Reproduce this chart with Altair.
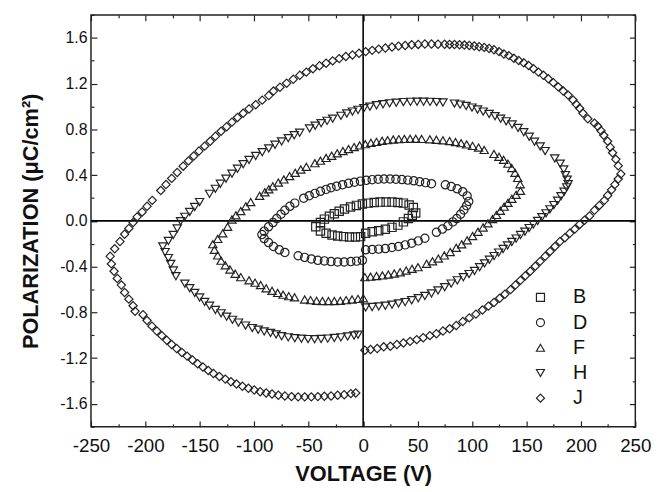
import altair as alt
import pandas as pd

SERIES = ["B", "D", "F", "H", "J"]
SHAPES = ["square", "circle", "triangle-up", "triangle-down", "diamond"]

X_TICKS = [-250, -225, -200, -175, -150, -125, -100, -75, -50, -25, 0,
           25, 50, 75, 100, 125, 150, 175, 200, 225, 250]
Y_TICKS = [-1.8, -1.6, -1.4, -1.2, -1.0, -0.8, -0.6, -0.4, -0.2, 0.0,
           0.2, 0.4, 0.6, 0.8, 1.0, 1.2, 1.4, 1.6, 1.8]

B = [(2.3, -0.109), (8.3, -0.095), (14.3, -0.086), (20.4, -0.074), (26.5, -0.057),
     (31.9, -0.037), (37.0, -0.009), (41.6, 0.020), (45.2, 0.049), (48.3, 0.069),
     (46.1, 0.116), (42.2, 0.138), (37.0, 0.155), (31.9, 0.161), (26.5, 0.164),
     (21.1, 0.164), (15.6, 0.164), (10.2, 0.161), (4.7, 0.155), (-0.7, 0.147),
     (-6.2, 0.135), (-11.6, 0.121), (-17.1, 0.104), (-22.0, 0.084), (-26.5, 0.062),
     (-31.0, 0.041), (-35.6, 0.015), (-39.2, -0.014), (-43.5, -0.052),
     (-39.2, -0.089), (-34.0, -0.109), (-28.6, -0.123), (-23.4, -0.132),
     (-18.0, -0.138), (-12.5, -0.141), (-7.1, -0.141), (-2.3, -0.138)]

D = [(2.3, -0.253), (8.3, -0.250), (14.3, -0.247), (20.4, -0.242), (26.5, -0.233),
     (32.5, -0.224), (38.6, -0.210), (44.6, -0.195), (50.6, -0.175), (56.7, -0.152),
     (67.3, -0.100), (72.8, -0.072), (77.9, -0.043), (82.4, -0.009), (86.0, 0.020),
     (89.5, 0.058), (92.5, 0.095), (95.0, 0.133), (97.0, 0.170),
     (95.5, 0.218), (91.5, 0.255), (86.4, 0.280), (80.9, 0.300), (75.5, 0.315),
     (62.8, 0.325), (57.3, 0.334), (51.9, 0.342), (46.5, 0.350), (41.0, 0.356),
     (35.6, 0.361), (30.1, 0.364), (24.7, 0.366), (19.2, 0.366), (13.8, 0.364),
     (8.3, 0.360), (2.9, 0.354), (-2.5, 0.347), (-8.0, 0.338), (-13.4, 0.328),
     (-18.9, 0.316), (-24.3, 0.303), (-29.5, 0.290), (-34.0, 0.275), (-39.2, 0.258),
     (-44.3, 0.240), (-49.5, 0.220), (-54.6, 0.198), (-62.8, 0.155), (-67.3, 0.127),
     (-71.9, 0.092), (-75.5, 0.058), (-79.4, 0.020), (-82.8, -0.015), (-86.9, -0.052),
     (-90.9, -0.090), (-93.0, -0.120), (-90.9, -0.155), (-86.9, -0.190),
     (-82.4, -0.224), (-77.0, -0.253), (-71.9, -0.276), (-59.7, -0.305),
     (-53.7, -0.319), (-47.6, -0.333), (-41.6, -0.345), (-35.6, -0.350),
     (-29.5, -0.356), (-23.4, -0.359), (-17.4, -0.359), (-11.3, -0.356),
     (-6.0, -0.352), (-0.7, -0.345)]

F = [(1.6, -0.492), (6.8, -0.488), (12.3, -0.483), (17.7, -0.477), (23.1, -0.469),
     (28.6, -0.460), (34.0, -0.449), (39.5, -0.434), (44.9, -0.419), (50.4, -0.405),
     (58.3, -0.376), (63.7, -0.354), (69.1, -0.330), (74.6, -0.302), (80.0, -0.273),
     (85.5, -0.236), (90.5, -0.205), (95.5, -0.170), (100.5, -0.133), (105.5, -0.095),
     (110.2, -0.058), (114.6, -0.021), (118.8, 0.016), (122.5, 0.052), (126.0, 0.088),
     (129.5, 0.124), (133.0, 0.158), (136.6, 0.193), (140.5, 0.228), (144.5, 0.262),
     (144.2, 0.320), (142.0, 0.375), (139.5, 0.420), (136.5, 0.462), (133.0, 0.500),
     (129.0, 0.533), (124.8, 0.560), (120.2, 0.585), (111.2, 0.620), (106.0, 0.640),
     (100.5, 0.655), (95.1, 0.668), (90.0, 0.679), (84.8, 0.689), (79.4, 0.697),
     (73.3, 0.704), (67.3, 0.709), (61.3, 0.713), (53.7, 0.716), (48.3, 0.717),
     (43.1, 0.717), (37.9, 0.716), (32.8, 0.714), (27.7, 0.711), (22.5, 0.705),
     (17.4, 0.699), (12.3, 0.690), (7.1, 0.682), (2.0, 0.670), (-3.2, 0.659),
     (-8.3, 0.645), (-13.4, 0.627), (-18.6, 0.610), (-23.8, 0.590), (-28.9, 0.569),
     (-34.0, 0.550), (-39.2, 0.526), (-44.3, 0.504), (-52.2, 0.472), (-57.3, 0.449),
     (-62.4, 0.420), (-67.6, 0.392), (-72.8, 0.362), (-77.9, 0.334), (-83.0, 0.302),
     (-86.7, 0.276), (-90.3, 0.250), (-95.1, 0.219), (-103.3, 0.164), (-107.8, 0.127),
     (-112.4, 0.086), (-116.9, 0.049), (-120.5, 0.012), (-124.5, -0.052),
     (-129.0, -0.109), (-133.6, -0.158), (-138.1, -0.204),
     (-136.6, -0.253), (-133.6, -0.302), (-130.5, -0.348), (-126.6, -0.388),
     (-122.3, -0.425), (-117.5, -0.462), (-112.4, -0.492), (-104.8, -0.520),
     (-99.3, -0.540), (-94.2, -0.561), (-89.1, -0.590), (-83.7, -0.612),
     (-78.5, -0.630), (-73.5, -0.645), (-68.3, -0.658), (-63.0, -0.668),
     (-53.7, -0.687), (-48.3, -0.693), (-42.8, -0.699), (-37.4, -0.701),
     (-31.9, -0.701), (-26.5, -0.701), (-21.0, -0.699), (-15.6, -0.693),
     (-10.2, -0.687), (-4.7, -0.682), (0.2, -0.676)]

H = [(2.3, -0.756), (8.3, -0.753), (14.3, -0.748), (20.4, -0.742), (26.5, -0.733),
     (32.5, -0.722), (38.6, -0.710), (44.6, -0.694), (50.6, -0.676), (56.7, -0.656),
     (62.8, -0.634), (68.8, -0.608), (74.9, -0.580), (80.9, -0.548), (86.5, -0.520),
     (92.0, -0.492), (97.3, -0.465), (102.3, -0.437), (107.0, -0.405), (111.5, -0.372),
     (116.0, -0.340), (120.3, -0.308), (124.5, -0.277), (128.6, -0.246), (132.6, -0.215),
     (136.6, -0.185), (140.6, -0.155), (144.6, -0.124), (148.6, -0.094), (152.5, -0.063),
     (156.4, -0.032), (160.3, -0.001), (164.2, 0.032), (168.0, 0.066), (171.6, 0.101),
     (175.2, 0.138), (178.6, 0.176), (181.8, 0.215), (184.6, 0.254), (187.0, 0.293),
     (188.3, 0.320), (187.4, 0.360), (185.8, 0.400), (184.2, 0.450), (181.0, 0.500),
     (176.0, 0.545), (167.2, 0.610), (162.6, 0.650), (157.4, 0.692), (152.6, 0.735),
     (147.5, 0.775), (142.3, 0.812), (136.8, 0.843), (131.4, 0.870), (126.3, 0.893),
     (121.1, 0.915), (115.7, 0.935), (110.3, 0.955), (105.1, 0.973), (100.0, 0.990),
     (94.6, 1.004), (89.1, 1.016), (83.9, 1.025), (73.3, 1.034), (67.5, 1.038),
     (61.5, 1.040), (55.5, 1.041), (49.5, 1.041), (43.5, 1.040), (37.0, 1.038),
     (30.4, 1.033), (24.3, 1.027), (18.3, 1.019), (12.3, 1.010), (6.2, 0.998),
     (0.7, 0.984), (-4.7, 0.970), (-9.8, 0.955), (-15.0, 0.938), (-20.4, 0.918),
     (-28.0, 0.893), (-33.1, 0.874), (-38.6, 0.853), (-44.0, 0.831), (-49.2, 0.808),
     (-58.3, 0.770), (-63.3, 0.748), (-68.8, 0.722), (-74.9, 0.694), (-80.9, 0.665),
     (-86.7, 0.633), (-92.7, 0.600), (-98.7, 0.567), (-104.8, 0.532), (-110.2, 0.495),
     (-115.4, 0.455), (-120.5, 0.412), (-126.0, 0.368), (-131.1, 0.324), (-135.7, 0.280),
     (-141.1, 0.236), (-150.2, 0.164), (-154.7, 0.121), (-159.3, 0.078), (-163.8, 0.035),
     (-167.7, -0.003), (-170.8, -0.066), (-174.4, -0.123), (-178.9, -0.175),
     (-184.0, -0.224), (-181.9, -0.273), (-178.9, -0.325), (-176.8, -0.376),
     (-174.4, -0.434), (-172.0, -0.483), (-163.8, -0.549), (-159.3, -0.589),
     (-154.7, -0.630), (-150.2, -0.670), (-145.6, -0.708), (-141.1, -0.742),
     (-135.7, -0.779), (-130.5, -0.808), (-125.4, -0.837), (-120.0, -0.865),
     (-114.5, -0.889), (-108.0, -0.915), (-101.8, -0.937), (-96.4, -0.952),
     (-90.9, -0.966), (-85.1, -0.980), (-80.0, -0.992), (-74.9, -1.008),
     (-68.8, -1.018), (-62.8, -1.025), (-56.7, -1.030), (-50.6, -1.033),
     (-44.6, -1.034), (-38.6, -1.032), (-32.5, -1.029), (-26.5, -1.023),
     (-20.4, -1.018), (-14.3, -1.010), (-8.3, -1.002), (-4.7, -0.995)]

J = [(1.6, -1.130), (6.8, -1.124), (12.9, -1.116), (18.9, -1.101), (25.0, -1.096),
     (31.0, -1.081), (37.0, -1.067), (43.1, -1.053), (49.2, -1.038), (55.2, -1.021),
     (61.3, -1.003), (67.3, -0.986), (73.3, -0.963), (79.4, -0.943), (85.5, -0.915),
     (91.5, -0.880), (97.5, -0.848), (103.6, -0.815), (109.6, -0.779), (115.1, -0.745),
     (120.2, -0.713), (125.4, -0.676), (130.2, -0.641), (135.4, -0.601), (139.9, -0.561),
     (144.5, -0.520), (149.0, -0.480), (153.5, -0.440), (158.1, -0.397), (162.6, -0.354),
     (167.2, -0.310), (171.7, -0.267), (176.2, -0.224), (180.8, -0.181), (185.3, -0.147),
     (189.8, -0.109), (194.4, -0.072), (198.9, -0.031), (203.4, 0.006), (208.0, 0.043),
     (212.5, 0.092), (217.0, 0.135), (221.6, 0.179), (224.6, 0.222), (228.2, 0.271),
     (231.2, 0.317), (234.3, 0.366), (236.7, 0.409),
     (234.3, 0.481), (232.1, 0.538), (229.1, 0.595), (227.0, 0.644), (224.6, 0.696),
     (221.0, 0.748), (218.5, 0.788), (215.5, 0.826), (212.5, 0.854), (206.4, 0.892),
     (201.9, 0.940), (198.9, 0.984), (195.8, 1.018), (192.8, 1.056), (188.3, 1.099),
     (183.8, 1.134), (179.2, 1.171), (174.7, 1.208), (170.1, 1.242), (165.6, 1.272),
     (161.0, 1.300), (156.5, 1.329), (152.0, 1.358), (147.5, 1.381), (142.9, 1.401),
     (138.4, 1.421), (133.8, 1.444), (129.3, 1.458), (124.8, 1.479), (120.2, 1.496),
     (115.7, 1.507), (111.2, 1.516), (106.6, 1.522), (102.1, 1.528), (97.5, 1.533),
     (93.0, 1.536), (88.5, 1.539), (83.9, 1.541), (79.4, 1.542), (74.9, 1.543),
     (68.8, 1.544), (62.8, 1.545), (56.7, 1.545), (50.6, 1.542), (44.6, 1.539),
     (38.6, 1.533), (32.5, 1.527), (26.5, 1.519), (20.4, 1.510), (14.3, 1.501),
     (8.3, 1.490), (2.3, 1.479), (-3.8, 1.464), (-9.8, 1.450), (-15.9, 1.436),
     (-22.0, 1.418), (-28.0, 1.398), (-34.0, 1.378), (-40.1, 1.355), (-46.1, 1.329),
     (-52.2, 1.300), (-58.2, 1.272), (-64.2, 1.237), (-70.3, 1.203), (-76.4, 1.168),
     (-82.4, 1.134), (-86.7, 1.095), (-92.7, 1.055), (-98.7, 1.015), (-104.8, 0.978),
     (-110.2, 0.940), (-115.4, 0.903), (-120.5, 0.863), (-125.4, 0.823), (-130.5, 0.783),
     (-135.7, 0.739), (-140.5, 0.696), (-145.6, 0.653), (-150.8, 0.610), (-155.6, 0.567),
     (-160.4, 0.524), (-165.3, 0.478), (-170.8, 0.423), (-175.9, 0.371), (-181.1, 0.317),
     (-185.9, 0.265), (-193.7, 0.179), (-198.5, 0.127), (-203.0, 0.078), (-207.6, 0.035),
     (-211.3, -0.014), (-215.2, -0.066), (-219.1, -0.117), (-223.4, -0.181),
     (-228.2, -0.244), (-232.4, -0.310),
     (-231.2, -0.376), (-228.8, -0.440), (-225.8, -0.503), (-222.1, -0.561),
     (-219.1, -0.626), (-215.2, -0.684), (-211.3, -0.742), (-209.5, -0.790),
     (-202.2, -0.820), (-198.5, -0.871), (-194.0, -0.920), (-189.5, -0.963),
     (-184.9, -1.003), (-180.4, -1.044), (-175.9, -1.081), (-171.3, -1.116),
     (-166.5, -1.150), (-161.7, -1.182), (-156.8, -1.216), (-152.0, -1.248),
     (-147.2, -1.277), (-142.3, -1.308), (-137.5, -1.334), (-132.0, -1.360),
     (-126.6, -1.383), (-121.4, -1.406), (-116.3, -1.426), (-110.9, -1.446),
     (-105.4, -1.463), (-100.0, -1.478), (-94.6, -1.493), (-89.1, -1.504),
     (-83.7, -1.513), (-77.9, -1.524), (-71.9, -1.530), (-65.8, -1.536),
     (-59.7, -1.538), (-53.7, -1.538), (-47.6, -1.538), (-41.6, -1.536),
     (-35.6, -1.533), (-29.5, -1.530), (-23.4, -1.524), (-17.4, -1.519),
     (-11.3, -1.510), (-6.8, -1.504)]

rows = []
for name, pts in zip(SERIES, [B, D, F, H, J]):
    for k, (v, p) in enumerate(pts):
        rows.append({"series": name, "V": v, "P": p, "k": k})
df = pd.DataFrame(rows)

FONT = "Liberation Sans"
INK = "#222222"

xs = alt.Scale(domain=[-250, 250], nice=False, zero=False)
ys = alt.Scale(domain=[-1.8, 1.8], nice=False, zero=False)

X_MINOR = "datum.value % 50 !== 0"
Y_MINOR = "abs(round(datum.value * 10)) % 4 !== 0"
TICK = alt.ExprRef(expr="-6")


def x_axis(orient, labels, title=None):
    kw = dict(orient=orient, values=X_TICKS, labels=labels, domain=False,
              grid=False, ticks=True, tickSize=TICK, tickColor=INK,
              tickWidth=1.2, labelOverlap=False, labelFlush=False,
              tickDash={"condition": {"test": X_MINOR, "value": [3, 20]},
                        "value": [20, 0]})
    if labels:
        kw.update(labelExpr="datum.value % 50 === 0 ? '' + datum.value : ''",
                  labelFont=FONT, labelFontSize=19, labelColor="#111111",
                  labelPadding=16, title=title, titleFont=FONT,
                  titleFontSize=22, titleFontWeight="bold", titleColor="#111111",
                  titlePadding=8)
    else:
        kw.update(title=None)
    return alt.Axis(**kw)


def y_axis(orient, labels, title=None):
    kw = dict(orient=orient, values=Y_TICKS, labels=labels, domain=False,
              grid=False, ticks=True, tickSize=TICK, tickColor=INK,
              tickWidth=1.2, labelOverlap=False, labelFlush=False,
              tickDash={"condition": {"test": Y_MINOR, "value": [3, 20]},
                        "value": [20, 0]})
    if labels:
        kw.update(labelExpr="abs(round(datum.value * 10)) % 4 === 0 ? "
                            "replace(format(datum.value, '.1f'), '\u2212', '-') : ''",
                  labelFont=FONT, labelFontSize=16, labelColor="#111111",
                  labelPadding=10, title=title, titleFont=FONT,
                  titleFontSize=22, titleFontWeight="bold", titleColor="#111111",
                  titlePadding=18)
    else:
        kw.update(title=None)
    return alt.Axis(**kw)


vline = alt.Chart(pd.DataFrame({"V": [0]})).mark_rule(
    color="#000000", strokeWidth=1.6
).encode(x=alt.X("V:Q", scale=xs, axis=x_axis("top", False)))

hline = alt.Chart(pd.DataFrame({"P": [0.0]})).mark_rule(
    color="#000000", strokeWidth=1.6
).encode(y=alt.Y("P:Q", scale=ys, axis=y_axis("right", False)))

points = alt.Chart(df).mark_point(
    filled=False, stroke=INK, strokeWidth=1.2, opacity=1, size=70
).encode(
    x=alt.X("V:Q", scale=xs, axis=x_axis("bottom", True, "VOLTAGE (V)")),
    y=alt.Y("P:Q", scale=ys, axis=y_axis("left", True, "POLARIZATION (\u03bcC/cm\u00b2)")),
    shape=alt.Shape("series:N", scale=alt.Scale(domain=SERIES, range=SHAPES),
                    legend=alt.Legend(title=None, orient="none", legendX=445,
                                      legendY=276, labelFont=FONT,
                                      labelFontSize=20, labelColor="#111111",
                                      symbolStrokeColor=INK, symbolStrokeWidth=1.2,
                                      symbolSize=66, rowPadding=5.5,
                                      labelOffset=23, padding=0)),
    order=alt.Order("k:Q"),
)

chart = alt.layer(vline, hline, points).resolve_axis(
    x="independent", y="independent"
).properties(
    width=551, height=417,
    autosize=alt.AutoSizeParams(type="none"),
    padding={"left": 84, "top": 4, "right": 25, "bottom": 63},
    background="white",
).configure_view(stroke=INK, strokeWidth=1.5)

chart.save("out.html", embed_options={"renderer": "svg", "actions": False})
